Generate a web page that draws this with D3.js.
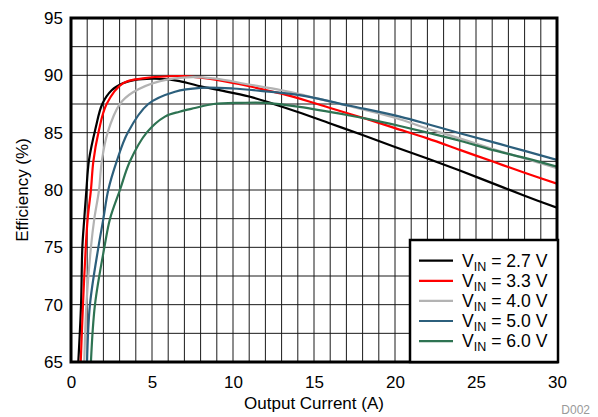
<!DOCTYPE html>
<html><head><meta charset="utf-8">
<script src="https://cdn.jsdelivr.net/npm/d3@7"></script>
<style>body{margin:0;background:#fff}svg{display:block;font-family:"Liberation Sans",Arial,sans-serif}</style>
</head><body><svg id="c" width="598" height="417"></svg>
<script>
const xTicks=[0,5,10,15,20,25,30];
const yTicks=[65,70,75,80,85,90,95];
const seriesNames=["2.7 V","3.3 V","4.0 V","5.0 V","6.0 V"];
const seriesColors=["#000000","#ff0000","#b3b3b3","#2c5f7c","#2e7352"];
const s27=[[0.45,65],[0.62,70],[0.70,75],[0.82,77.5],[0.95,80],[1.11,82.6],[1.52,85.4],[1.93,87.5],[2.51,88.7],[3.2,89.3],[3.95,89.6],[5,89.7],[6,89.65],[6.7,89.5],[8,89.05],[9,88.75],[11,88.15],[12.5,87.5],[14,86.8],[16,85.8],[18,84.8],[20,83.75],[22,82.75],[24,81.7],[26,80.6],[28,79.5],[30,78.45]];
const s33=[[0.6,65],[0.74,70],[0.91,75],[1.03,77.5],[1.23,80],[1.38,82.5],[1.69,85],[2.2,87.5],[3.2,89.3],[4.57,89.75],[6,89.92],[7,89.93],[8,89.8],[9,89.6],[11,89.05],[13,88.4],[14.75,87.7],[16,87.15],[18,86.3],[20,85.4],[22,84.5],[24,83.5],[26,82.5],[28,81.5],[30,80.55]];
const s40=[[0.82,65],[0.95,70],[1.23,75],[1.44,77.5],[1.73,80],[1.9,82.5],[2.26,85],[3.02,87.5],[3.8,88.5],[5.5,89.5],[7.5,89.85],[8.8,89.73],[11,89.2],[13,88.7],[14.1,88.37],[15,88.05],[17.2,87.3],[20,86.3],[22,85.35],[24,84.5],[26,83.6],[28,82.75],[30,81.9]];
const s50=[[0.99,65],[1.17,70],[1.69,75],[2.0,77.5],[2.3,80],[2.82,82.5],[3.5,85],[4.77,87.5],[6.42,88.57],[8,88.9],[10,88.85],[12,88.6],[14.1,88.28],[17.2,87.35],[20.3,86.4],[22.2,85.67],[24,84.95],[26.5,84.0],[30,82.62]];
const s60=[[1.23,65],[1.48,70],[2.06,75],[2.41,77.5],[3.02,80],[3.64,82.5],[4.67,85],[5.8,86.4],[6.7,86.83],[7.65,87.15],[8.8,87.5],[10.5,87.6],[12,87.6],[14.1,87.25],[17.2,86.5],[18.3,86.2],[20.3,85.58],[22.2,84.94],[24,84.3],[26,83.5],[28,82.8],[30,82.03]];
const seriesData=[s27,s33,s40,s50,s60];

const svg=d3.select("#c");
const L=71,R=557,T=18,B=362;
const FS=17;
const x=d3.scaleLinear().domain([0,30]).range([L,R]);
const y=d3.scaleLinear().domain([65,95]).range([B,T]);

// grid
const g=svg.append("g");
g.selectAll("line.v").data(d3.range(1,30,1)).join("line")
 .attr("x1",d=>x(d)).attr("x2",d=>x(d)).attr("y1",T).attr("y2",B)
 .attr("stroke","#1a1a1a").attr("stroke-width",1);
g.selectAll("line.h").data(d3.range(67.5,95,2.5)).join("line")
 .attr("y1",d=>y(d)).attr("y2",d=>y(d)).attr("x1",L).attr("x2",R)
 .attr("stroke","#1a1a1a").attr("stroke-width",1);

// curves
const line=d3.line().x(d=>x(d[0])).y(d=>y(d[1])).curve(d3.curveCatmullRom.alpha(0.5));
svg.append("clipPath").attr("id","cp").append("rect").attr("x",L).attr("y",T).attr("width",R-L).attr("height",B-T);
const cg=svg.append("g").attr("clip-path","url(#cp)");
seriesData.forEach((s,i)=>{
  cg.append("path").attr("d",line(s)).attr("fill","none")
   .attr("stroke",seriesColors[i]).attr("stroke-width",2.2).attr("stroke-linejoin","round");
});

// frame
svg.append("rect").attr("x",L).attr("y",T).attr("width",R-L).attr("height",B-T)
 .attr("fill","none").attr("stroke","#000").attr("stroke-width",3);

// axes labels
const xa=d3.axisBottom(x).tickValues(xTicks).tickSize(0).tickPadding(14);
const xg=svg.append("g").attr("transform",`translate(0,${B})`).call(xa);
xg.select(".domain").remove();
xg.selectAll("text").attr("font-size",FS).attr("fill","#000").attr("font-family","Liberation Sans, Arial, sans-serif");
const ya=d3.axisLeft(y).tickValues(yTicks).tickSize(0).tickPadding(8);
const yg=svg.append("g").attr("transform",`translate(${L},0)`).call(ya);
yg.select(".domain").remove();
yg.selectAll("text").attr("font-size",FS).attr("fill","#000").attr("font-family","Liberation Sans, Arial, sans-serif");

svg.append("text").attr("x",(L+R)/2).attr("y",408.5).attr("text-anchor","middle")
 .attr("font-size",FS).text("Output Current (A)");
svg.append("text").attr("transform",`translate(28,${(T+B)/2}) rotate(-90)`).attr("text-anchor","middle")
 .attr("font-size",FS).text("Efficiency (%)");
svg.append("text").attr("x",590).attr("y",414).attr("text-anchor","end")
 .attr("font-size",12).attr("fill","#999").text("D002");

// legend
const lg=svg.append("g");
lg.append("rect").attr("x",410).attr("y",240).attr("width",148).attr("height",122)
 .attr("fill","#fff").attr("stroke","#000").attr("stroke-width",2.5);
seriesNames.forEach((n,i)=>{
  const yy=260.7+i*20.1;
  lg.append("line").attr("x1",419).attr("x2",453).attr("y1",yy).attr("y2",yy)
   .attr("stroke",seriesColors[i]).attr("stroke-width",2.2);
  const t=lg.append("text").attr("x",462).attr("y",yy+6).attr("font-size",17.6);
  t.append("tspan").text("V");
  t.append("tspan").attr("font-size",12.5).attr("dy",4).text("IN");
  t.append("tspan").attr("dy",-4).text(" = "+n);
});
</script></body></html>
